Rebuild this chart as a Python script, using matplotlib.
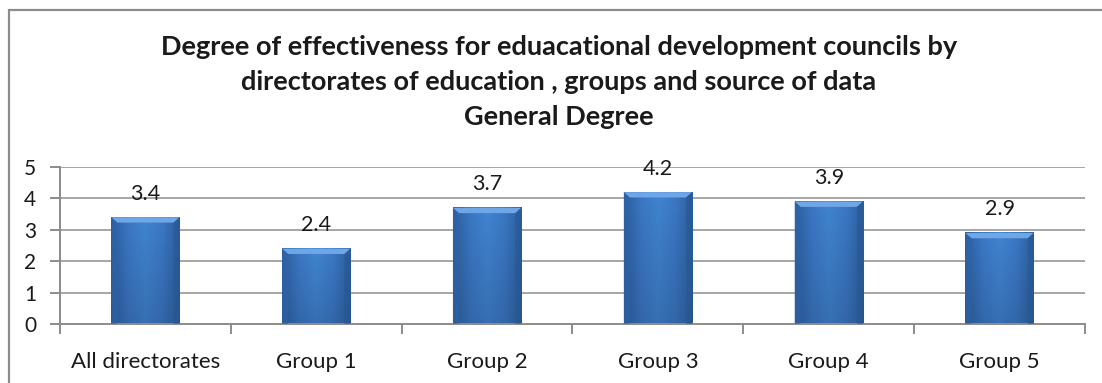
import matplotlib
matplotlib.use("Agg")

import numpy as np
from matplotlib import pyplot as plt
from matplotlib.patches import Polygon, Rectangle
from matplotlib.colors import LinearSegmentedColormap

categories = ["All directorates", "Group 1", "Group 2", "Group 3", "Group 4", "Group 5"]
values = [3.4, 2.4, 3.7, 4.2, 3.9, 2.9]
y_ticks = [0, 1, 2, 3, 4, 5]
title_lines = [
    "Degree of effectiveness for eduacational development councils by",
    "directorates of education , groups and source of data",
    "General Degree",
]

plt.rcParams["font.family"] = ["Lato", "DejaVu Sans"]

fig = plt.figure(figsize=(11.02, 3.83), dpi=100)
fig.patch.set_facecolor("white")

# chart frame (only top and left edges fall inside the image)
fig.patches.append(Rectangle((9 / 1102, -0.05), 1.2, 1 - 10 / 383 + 0.05,
                             transform=fig.transFigure, fill=False,
                             edgecolor="#8c8c8c", linewidth=1.6))

fig.text(0.507, 1 - 35 / 383, "\n".join(title_lines), ha="center", va="top",
         fontsize=19.5, fontweight="bold", color="#1a1a1a", linespacing=1.55)

ax = fig.add_axes([60 / 1102, 1 - 324 / 383, 1025 / 1102, 157 / 383])
n = len(categories)
ax.set_xlim(-0.5, n - 0.5)
ax.set_ylim(0, 5)

for y in y_ticks[1:]:
    ax.axhline(y, color="#a6a6a6", linewidth=1.4, zorder=0)

bar_w = 0.4
shade = LinearSegmentedColormap.from_list(
    "bar", ["#2d5f9e", "#3b78c4", "#4184d0", "#3b78c4", "#2d5f9e"])
grad = np.linspace(0, 1, 64).reshape(1, -1)
vgrad = np.linspace(0, 1, 64).reshape(-1, 1)
fade = LinearSegmentedColormap.from_list(
    "fade", [(0.1, 0.2, 0.35, 0.25), (0.1, 0.2, 0.35, 0.0)])

for i, v in enumerate(values):
    x0, x1 = i - bar_w / 2, i + bar_w / 2
    ax.imshow(grad, cmap=shade, extent=[x0, x1, 0, v], aspect="auto",
              zorder=2, interpolation="bicubic")
    # slightly darker toward the base
    ax.imshow(vgrad, cmap=fade, extent=[x0, x1, 0, v], aspect="auto",
              zorder=2.1, origin="lower")
    dx, dy = 0.035, 0.17
    ax.add_patch(Polygon([(x0, v), (x1, v), (x1 - dx, v - dy), (x0 + dx, v - dy)],
                         closed=True, facecolor="#6ea6e6", edgecolor="none", zorder=3))
    ax.add_patch(Polygon([(x0, v), (x0 + dx, v - dy), (x0 + dx, 0), (x0, 0)],
                         closed=True, facecolor="#2f64a8", edgecolor="none", zorder=3, alpha=0.6))
    ax.add_patch(Polygon([(x1, v), (x1 - dx, v - dy), (x1 - dx, 0), (x1, 0)],
                         closed=True, facecolor="#285893", edgecolor="none", zorder=3, alpha=0.6))
    ax.annotate(f"{v:.1f}", xy=(i, v), xytext=(0, 17), textcoords="offset points",
                ha="center", va="center", fontsize=15.5, color="#1a1a1a", zorder=4)

for side in ("top", "right"):
    ax.spines[side].set_visible(False)
for side in ("left", "bottom"):
    ax.spines[side].set_color("#8c8c8c")
    ax.spines[side].set_linewidth(1.4)

ax.set_yticks(y_ticks)
ax.set_yticklabels([str(t) for t in y_ticks], fontsize=15, color="#1a1a1a")
ax.tick_params(axis="y", direction="out", length=7, width=1.4, color="#8c8c8c", pad=10)

ax.set_xticks(np.arange(-0.5, n, 1.0), minor=False)
ax.set_xticklabels([])
ax.tick_params(axis="x", which="major", direction="out", length=7, width=1.4, color="#8c8c8c")
ax.set_xticks(np.arange(n), minor=True)
ax.set_xticklabels(categories, minor=True, fontsize=16, color="#1a1a1a")
ax.tick_params(axis="x", which="minor", length=0, pad=20)

fig.savefig("out.png", dpi=100)
plt.close(fig)
